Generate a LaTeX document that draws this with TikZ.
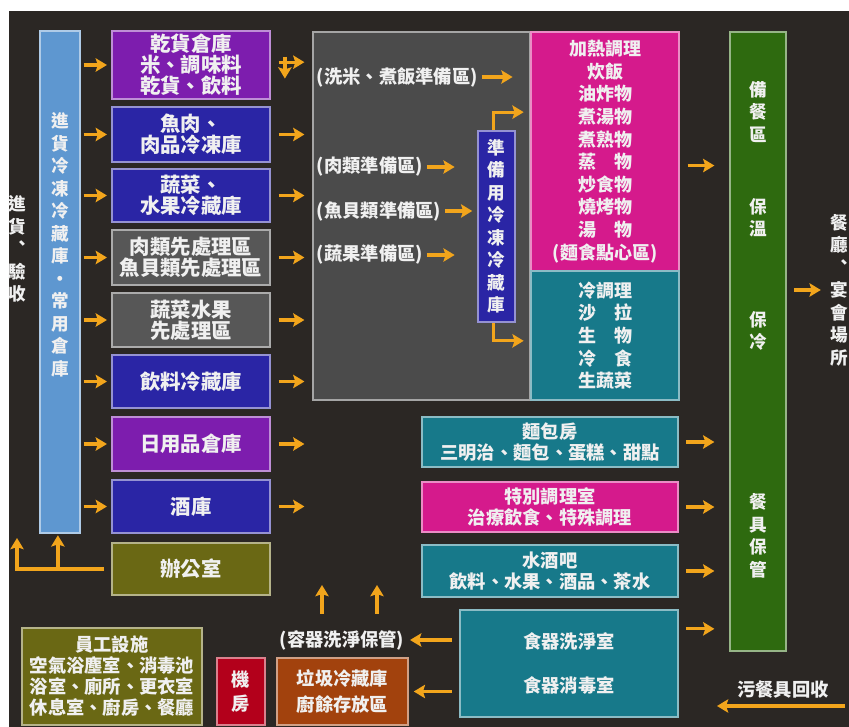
\documentclass[tikz,border=0pt]{standalone}
\usepackage{fontspec}
\setmainfont{Noto Sans CJK TC}
\usetikzlibrary{arrows.meta}
\definecolor{bg}{HTML}{2B2724}
\definecolor{store}{HTML}{5E97D0}
\definecolor{purp}{HTML}{7D1DAE}
\definecolor{blu}{HTML}{2A25A5}
\definecolor{gry}{HTML}{575757}
\definecolor{prepgray}{HTML}{4B4B4B}
\definecolor{olive}{HTML}{6A6814}
\definecolor{mag}{HTML}{D51A8C}
\definecolor{teal}{HTML}{17798A}
\definecolor{grn}{HTML}{2E6A0F}
\definecolor{red}{HTML}{B3001B}
\definecolor{brn}{HTML}{A2420D}
\definecolor{arrow}{HTML}{F2A51C}
\definecolor{txt}{HTML}{F0F0F0}
\newcommand{\px}{0.025cm}
\newcommand{\txtbig}{\fontsize{14.5pt}{15pt}\selectfont\bfseries}
\newcommand{\txtsmall}{\fontsize{13pt}{15pt}\selectfont\bfseries}
\newcommand{\txtlist}{\fontsize{12.8pt}{16.1pt}\selectfont\bfseries}
\newcommand{\txtvert}{\fontsize{12.5pt}{16pt}\selectfont\bfseries}
\tikzset{
  box/.style={draw=#1!50!white,fill=#1,line width=1.2pt,text=txt,align=center,inner sep=0pt,font=\txtsmall},
  wh/.style 2 args={minimum width=#1*\px,minimum height=#2*\px},
  lbl/.style={text=txt,align=center,inner sep=0.5pt,font=\txtsmall},
  arr/.style={->,draw=arrow,line width=2.3pt},
}

\begin{document}
\begin{tikzpicture}[x=0.025cm,y=-0.025cm,>={Stealth[length=8pt,width=9.5pt,inset=1.5pt]}]
\useasboundingbox (0,0) rectangle (849,727);
\fill[white] (0,0) rectangle (849,727);
\fill[bg] (9,11) rectangle (849,727);
%RECEIVING
\node[lbl,font=\txtvert] (recv) at (17,249) {進\\貨\\︑\\驗\\收};
\node[box=store,wh={40}{502}] (store) at (60,282) {};
\node[lbl,font=\txtvert] (storetxt) at (60,245) {進\\貨\\冷\\凍\\冷\\藏\\庫\\・\\常\\用\\倉\\庫};
%STORAGE COLUMN
\node[box=purp,wh={158}{68},font=\txtbig] (dry) at (191,65) {乾貨倉庫\\米、調味料\\乾貨、飲料};
\node[box=blu,wh={158}{55},font=\txtbig] (fish) at (191,134.5) {魚肉、\\肉品冷凍庫};
\node[box=blu,wh={158}{53},font=\txtbig] (veg) at (191,195.5) {蔬菜、\\水果冷藏庫};
\node[box=gry,wh={158}{55},font=\txtbig] (meatpre) at (191,257.5) {肉類先處理區\\魚貝類先處理區};
\node[box=gry,wh={158}{54},font=\txtbig] (vegpre) at (191,320) {蔬菜水果\\先處理區};
\node[box=blu,wh={158}{53},font=\txtbig] (drink) at (191,381.5) {飲料冷藏庫};
\node[box=purp,wh={158}{54},font=\txtbig] (daily) at (191,444) {日用品倉庫};
\node[box=blu,wh={158}{53},font=\txtbig] (wine) at (191,506.5) {酒庫};
\node[box=olive,wh={158}{52},font=\txtbig] (office) at (191,569) {辦公室};
%PREPARATION AREA
\node[box=prepgray,wh={217}{368}] (prep) at (421.5,216) {};
\node[lbl,anchor=west] (rice) at (316,77) {(洗米、煮飯準備區)};
\node[lbl,anchor=west] (meatprep) at (316,167) {(肉類準備區)};
\node[lbl,anchor=west] (fishprep) at (316,211) {(魚貝類準備區)};
\node[lbl,anchor=west] (vegprep) at (316,255) {(蔬果準備區)};
\node[box=blu,wh={37}{191},font=\txtvert] (pfr) at (496.5,226.5) {準\\備\\用\\冷\\凍\\冷\\藏\\庫};
%COOKING
\node[box=mag,wh={148}{239},font=\txtlist] (hot) at (605,151.5) {加熱調理\\炊飯\\油炸物\\煮湯物\\煮熟物\\蒸　物\\炒食物\\燒烤物\\湯　物\\(麵食點心區)};
\node[box=teal,wh={148}{129},font=\txtlist] (cold) at (605,335.5) {冷調理\\沙　拉\\生　物\\冷　食\\生蔬菜};
\node[box=teal,wh={256}{50}] (bakery) at (550,442) {麵包房\\三明治、麵包、蛋糕、甜點};
\node[box=mag,wh={256}{50}] (special) at (550,507) {特別調理室\\治療飲食、特殊調理};
\node[box=teal,wh={256}{52}] (bar) at (550,571) {水酒吧\\飲料、水果、酒品、茶水};
\node[box=teal,wh={218}{107}] (wash) at (569,663.5) {食器洗淨室\\[16pt]食器消毒室};
%SERVING
\node[box=grn,wh={56}{619}] (serve) at (758,341.5) {};
\node[lbl,font=\txtvert] (servea) at (758,112) {備\\餐\\區};
\node[lbl,font=\txtvert] (serveb) at (758,218) {保\\溫};
\node[lbl,font=\txtvert] (servec) at (758,331) {保\\冷};
\node[lbl,font=\txtvert] (served) at (758,536) {餐\\具\\保\\管};
\node[lbl,font=\txtvert] (hall) at (839,290) {餐\\廳\\︑\\宴\\會\\場\\所};
\node[lbl] (dirty) at (783,690) {污餐具回收};
%STAFF AND WASTE
\node[box=olive,wh={180}{97}] (staff) at (112,676.5) {員工設施\\空氣浴塵室、消毒池\\浴室、廁所、更衣室\\休息室、廚房、餐廳};
\node[box=red,wh={48}{67}] (machine) at (241,691.5) {機\\[2pt]房};
\node[box=brn,wh={131}{67}] (garbage) at (342.5,691.5) {垃圾冷藏庫\\[3pt]廚餘存放區};
\node[lbl] (cont) at (342,640) {(容器洗淨保管)};
%STORE TO STORAGE
\draw[arr,shorten <=2pt,shorten >=3pt] (store.east |- dry.west) -- (dry.west);
\draw[arr,shorten <=2pt,shorten >=3pt] (store.east |- fish.west) -- (fish.west);
\draw[arr,shorten <=2pt,shorten >=3pt] (store.east |- veg.west) -- (veg.west);
\draw[arr,shorten <=2pt,shorten >=3pt] (store.east |- meatpre.west) -- (meatpre.west);
\draw[arr,shorten <=2pt,shorten >=3pt] (store.east |- vegpre.west) -- (vegpre.west);
\draw[arr,shorten <=2pt,shorten >=3pt] (store.east |- drink.west) -- (drink.west);
\draw[arr,shorten <=2pt,shorten >=3pt] (store.east |- daily.west) -- (daily.west);
\draw[arr,shorten <=2pt,shorten >=3pt] (store.east |- wine.west) -- (wine.west);
%STORAGE TO PREPARATION
\coordinate (dryout) at ([yshift=2pt]dry.east);
\draw[arr,shorten <=5.5pt,shorten >=5.5pt] (dryout) -- (prep.west |- dryout);
\draw[arr] ([xshift=10pt,yshift=6pt]dry.east) -- ++(0,22);
\draw[arr,shorten <=5.5pt,shorten >=5.5pt] (fish.east) -- (prep.west |- fish.east);
\draw[arr,shorten <=5.5pt,shorten >=5.5pt] (veg.east) -- (prep.west |- veg.east);
\draw[arr,shorten <=5.5pt,shorten >=5.5pt] (meatpre.east) -- (prep.west |- meatpre.east);
\draw[arr,shorten <=5.5pt,shorten >=5.5pt] (vegpre.east) -- (prep.west |- vegpre.east);
\draw[arr,shorten <=5.5pt,shorten >=5.5pt] (drink.east) -- (prep.west |- drink.east);
\draw[arr,shorten <=5.5pt,shorten >=5.5pt] (daily.east) -- (prep.west |- daily.east);
\draw[arr,shorten <=5.5pt,shorten >=5.5pt] (wine.east) -- (prep.west |- wine.east);
%INSIDE PREPARATION
\draw[arr,shorten <=2pt,shorten >=12.5pt] (rice.east) -- (hot.west |- rice.east);
\draw[arr,shorten <=2pt,shorten >=16pt] (meatprep.east) -- (pfr.west |- meatprep.east);
\draw[arr,shorten <=2pt,shorten >=3.5pt] (fishprep.east) -- (pfr.west |- fishprep.east);
\draw[arr,shorten <=2pt,shorten >=16pt] (vegprep.east) -- (pfr.west |- vegprep.east);
\draw[arr] ([xshift=-2pt]pfr.north) -- ++(0,-18) -- ++(30,0);
\draw[arr] ([xshift=-2pt]pfr.south) -- ++(0,18) -- ++(30,0);
%TO SERVING
\coordinate (hotout) at ([yshift=-10pt]hot.east);
\coordinate (washout) at ([yshift=-14pt]wash.north east);
\draw[arr,shorten <=5.5pt,shorten >=10.5pt] (hotout) -- (serve.west |- hotout);
\draw[arr,shorten <=5pt,shorten >=10.5pt] (bakery.east) -- (serve.west |- bakery.east);
\draw[arr,shorten <=5pt,shorten >=10.5pt] (special.east) -- (serve.west |- special.east);
\draw[arr,shorten <=5pt,shorten >=10.5pt] (bar.east) -- (serve.west |- bar.east);
\draw[arr,shorten <=5pt,shorten >=10.5pt] (washout) -- (serve.west |- washout);
\draw[arr,shorten <=5pt,shorten >=6pt] (serve.east |- hall.west) -- (hall.west);
%RETURN
\coordinate (dirtyin) at (845,706);
\draw[arr] (dirtyin) -- ++(-128,0);
\draw[arr,shorten <=5pt,shorten >=3.5pt] (wash.west |- cont.east) -- (cont.east);
\draw[arr,shorten <=5pt,shorten >=3.5pt] (wash.west |- garbage.east) -- (garbage.east);
\coordinate (upa) at (322,585);
\coordinate (upb) at (377,585);
\draw[arr,shorten <=11pt] (cont.north -| upa) -- (upa);
\draw[arr,shorten <=11pt] (cont.north -| upb) -- (upb);
%OFFICE
\coordinate (recvin) at (17,538);
\coordinate (storein) at ([xshift=-1.5pt]store.south);
\draw[arr,shorten <=5pt] (office.west) -| (recvin);
\draw[arr,shorten >=1pt] (office.west -| storein) -- (storein);
\end{tikzpicture}
\end{document}
